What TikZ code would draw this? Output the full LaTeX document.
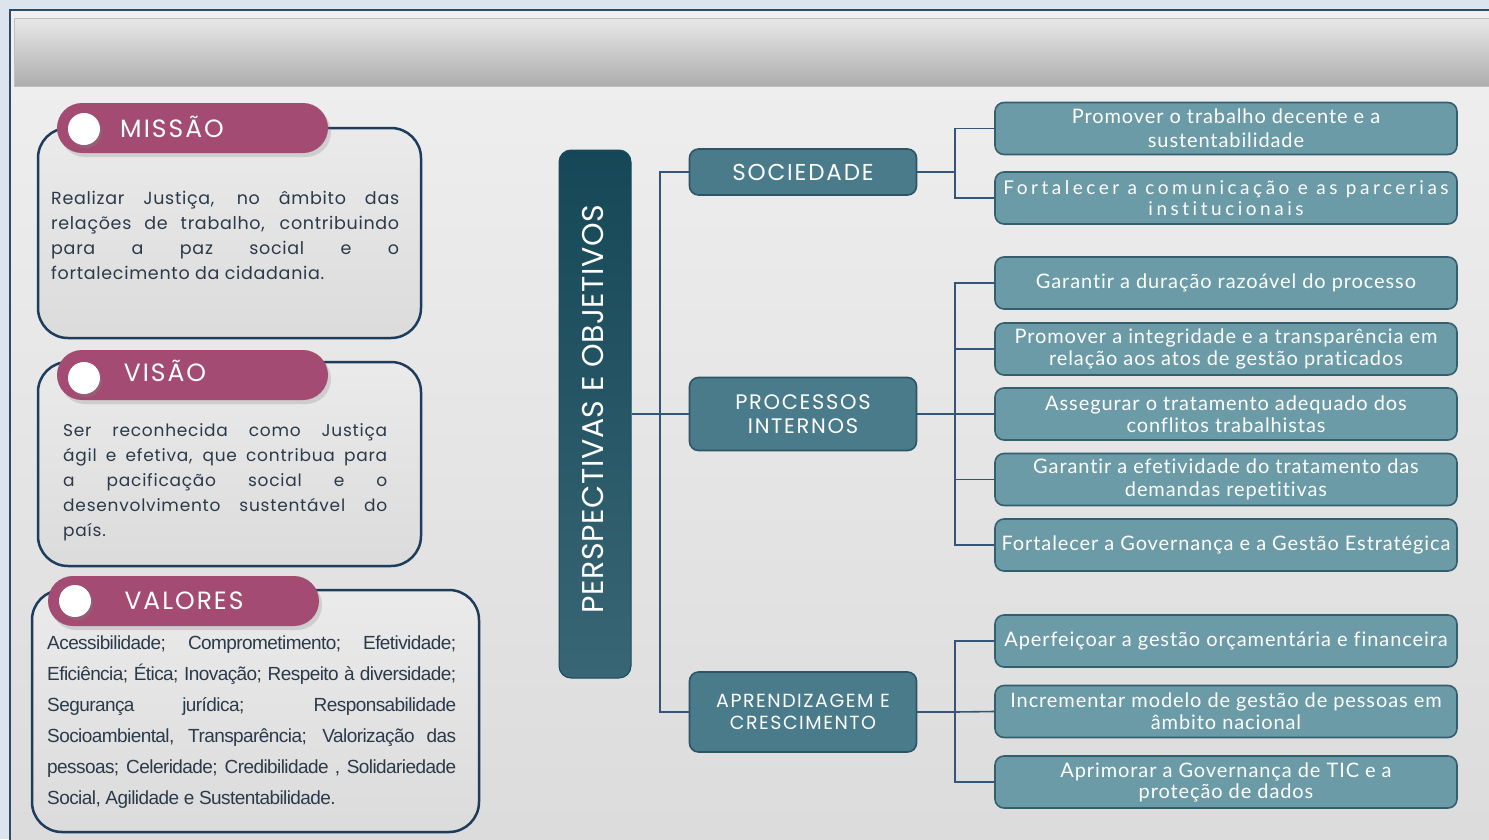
\documentclass[tikz,border=0pt]{standalone}
\usepackage{fontspec}
\setmainfont{Lato}
\newfontfamily\pilltitle[LetterSpace=8]{Poppins}
\newfontfamily\catfont[LetterSpace=8]{Poppins}
\newfontfamily\barfont[LetterSpace=2]{Poppins}
\newfontfamily\missf[LetterSpace=4]{Poppins}
\newfontfamily\visf[LetterSpace=4.5]{Poppins}
\newfontfamily\objf[LetterSpace=4.5,Ligatures=NoCommon]{Lato}
\newfontfamily\objwide[LetterSpace=18.5,Ligatures=NoCommon]{Lato}
\newfontfamily\valf[LetterSpace=-3]{Liberation Sans}
\usetikzlibrary{shadows,calc}
\definecolor{pagebg}{HTML}{DCE4EE}
\definecolor{frame}{HTML}{2D4B6B}
\definecolor{magenta}{HTML}{A34B73}
\definecolor{navy}{HTML}{1E3D5C}
\definecolor{darkteal}{HTML}{164B5C}
\definecolor{midteal}{HTML}{4A7B8A}
\definecolor{catborder}{HTML}{2D5566}
\definecolor{lightteal}{HTML}{6B9BA7}
\definecolor{objborder}{HTML}{345F6F}
\definecolor{linec}{HTML}{34557A}
\definecolor{bodytext}{HTML}{2B3A4A}
\tikzset{
  x=1pt, y=-1pt,
  infobox/.style={draw=navy, line width=2.5pt, rounded corners=30, top color=white!92!black, bottom color=white!86!black, inner sep=0},
  pill/.style={fill=magenta, rounded corners=25, minimum width=271, minimum height=50, inner sep=0,
     drop shadow={shadow xshift=3pt, shadow yshift=-4pt, opacity=0.25}},
  dot/.style={circle, fill=white, minimum size=32, inner sep=0,
     drop shadow={shadow xshift=2pt, shadow yshift=-3pt, opacity=0.35}},
  pilltext/.style={text=white, font=\pilltitle\fontsize{25}{25}\selectfont, inner sep=0},
  body/.style={text=bodytext, align=justify, inner sep=0, anchor=north west},
  catbox/.style={draw=catborder, line width=1.6pt, fill=midteal, rounded corners=9, minimum width=227, inner sep=0, text=white, align=center},
  objbox/.style={draw=objborder, line width=1.6pt, fill=lightteal, rounded corners=9, minimum width=462, minimum height=52, inner sep=0, text=white, align=center, font=\objf\fontsize{20}{23}\selectfont},
  conn/.style={draw=linec, line width=1.6pt},
}
\hyphenpenalty=10000
\tolerance=10000
\begin{document}
\begin{tikzpicture}
\useasboundingbox (0,0) rectangle (1489,839);
\clip (0,0) rectangle (1489,839);
\fill[pagebg] (0,0) rectangle (1489,839);
\draw[frame, line width=1.5pt, top color=white!94!black, bottom color=white!86!black] (10,10) rectangle (1520,860);
\draw[draw=white!75!black, line width=1pt, top color=white!91!black, bottom color=white!68!black] (14,18) rectangle (1520,86);

% MISSAO
\node[infobox, minimum width=383, minimum height=210] (mbox) at (229.5,233) {};
\node[pill] (mpill) at (192.5,128) {};
\node[dot] (mdot) at (84,129) {};
\node[pilltext] (mtitle) at (172,127) {MISSÃO};
\node[body, text width=348, font=\missf\fontsize{17.5}{25}\selectfont] (mtext) at (51,191)
  {Realizar Justiça, no âmbito das\linebreak relações de trabalho, contribuindo\linebreak para a paz social e o\linebreak fortalecimento da cidadania.};

% VISAO
\node[infobox, minimum width=383, minimum height=204] (vbox) at (229.5,464) {};
\node[pill] (vpill) at (192.5,375) {};
\node[dot] (vdot) at (84,378) {};
\node[pilltext] (vtitle) at (165,371) {VISÃO};
\node[body, text width=324, font=\visf\fontsize{17}{25}\selectfont] (vtext) at (63,423)
  {Ser reconhecida como Justiça\linebreak ágil e efetiva, que contribua para\linebreak a pacificação social e o\linebreak desenvolvimento sustentável do\linebreak país.};

% VALORES
\node[infobox, minimum width=447, minimum height=242] (lbox) at (255.5,711) {};
\node[pill] (lpill) at (183.5,601) {};
\node[dot] (ldot) at (75,601) {};
\node[pilltext] (ltitle) at (184,601) {VALORES};
\node[body, text width=409, font=\valf\fontsize{19}{31}\selectfont] (ltext) at (47,636)
  {Acessibilidade; Comprometimento; Efetividade;\linebreak Eficiência; Ética; Inovação; Respeito à diversidade;\linebreak Segurança jurídica; Responsabilidade\linebreak Socioambiental, Transparência; Valorização das\linebreak pessoas; Celeridade; Credibilidade , Solidariedade\linebreak Social, Agilidade e Sustentabilidade.};

% central bar
\node[draw=darkteal, line width=1pt, top color=darkteal!95!black, bottom color=darkteal!85!white, rounded corners=12, minimum width=72, minimum height=528, inner sep=0] (bar) at (595,414) {};
\node[rotate=90, text=white, font=\barfont\fontsize{30}{30}\selectfont, inner sep=0] (bartext) at (593,409) {PERSPECTIVAS E OBJETIVOS};

% categories
\node[catbox, minimum height=46, font=\catfont\fontsize{23}{23}\selectfont] (soc) at (803,172) {SOCIEDADE};
\node[catbox, minimum height=73, font=\catfont\fontsize{21}{24}\selectfont] (proc) at (803,414) {PROCESSOS\\INTERNOS};
\node[catbox, minimum height=80, font=\catfont\fontsize{19}{22}\selectfont] (apr) at (803,712) {APRENDIZAGEM E\\CRESCIMENTO};

% objectives
\node[objbox] (o1) at (1226,128.5) {Promover o trabalho decente e a\\[1pt]sustentabilidade};
\node[objbox, font=\objwide\fontsize{19}{21}\selectfont] (o2) at (1226,198) {Fortalecer a comunicação e as parcerias\\institucionais};
\node[objbox] (o3) at (1226,283) {Garantir a duração razoável do processo};
\node[objbox, font=\objf\fontsize{20}{22}\selectfont] (o4) at (1226,349) {Promover a integridade e a transparência em\\relação aos atos de gestão praticados};
\node[objbox, font=\objf\fontsize{20}{22}\selectfont] (o5) at (1226,414) {Assegurar o tratamento adequado dos\\conflitos trabalhistas};
\node[objbox, font=\objf\fontsize{20}{23}\selectfont] (o6) at (1226,479.5) {Garantir a efetividade do tratamento das\\demandas repetitivas};
\node[objbox] (o7) at (1226,545) {Fortalecer a Governança e a Gestão Estratégica};
\node[objbox] (o8) at (1226,641) {Aperfeiçoar a gestão orçamentária e financeira};
\node[objbox, font=\objf\fontsize{20}{22}\selectfont] (o9) at (1226,711.5) {Incrementar modelo de gestão de pessoas em\\âmbito nacional};
\node[objbox, font=\objf\fontsize{20}{21}\selectfont] (o10) at (1226,782) {Aprimorar a Governança de TIC e a\\proteção de dados};

% connectors
\coordinate (J) at (660,414);
\coordinate (K1) at (955,172);
\coordinate (K2) at (955,414);
\coordinate (K3) at (955,712);
\draw[conn] (bar.east |- J) -- (J);
\draw[conn] (soc.west) -| (J) |- (apr.west);
\draw[conn] (J) -- (proc.west);
\draw[conn] (soc.east) -- (K1);
\draw[conn] (o1.west) -| (K1) |- (o2.west);
\draw[conn] (proc.east) -- (K2);
\draw[conn] (o3.west) -| (K2) |- (o7.west);
\draw[conn] (K2) -- (o5.west);
\draw[conn] (o4.west) -- (o4.west -| K2);
\draw[conn] (o6.west) -- (o6.west -| K2);
\draw[conn] (apr.east) -- (K3);
\draw[conn] (o8.west) -| (K3) |- (o10.west);
\draw[conn] (K3) -- (o9.west);
\end{tikzpicture}
\end{document}
